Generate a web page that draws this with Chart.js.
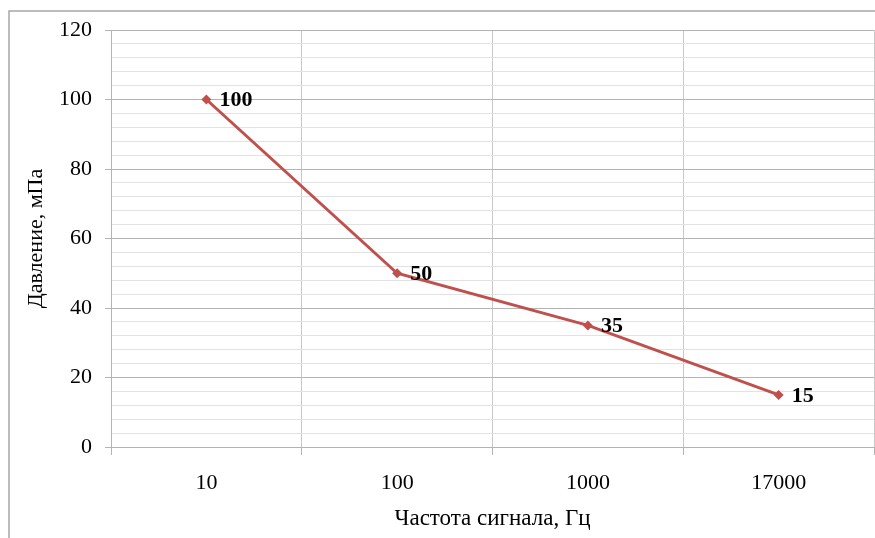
<!DOCTYPE html>
<html>
<head>
<meta charset="utf-8">
<script src="https://cdn.jsdelivr.net/npm/chart.js@4/dist/chart.umd.min.js"></script>
<style>
  html, body { margin: 0; padding: 0; background: #ffffff; }
  #wrap { width: 875px; height: 538px; position: relative; }
</style>
</head>
<body>
<div id="wrap"><canvas id="chart" width="875" height="538"></canvas></div>
<script>
// Signal frequency categories (Hz) and measured pressure (mPa)
const frequencies = ['10', '100', '1000', '17000'];
const pressure = [100, 50, 35, 15];

// Value axis range and gridline spacing
const yMin = 0;
const yMax = 120;
const yMinorStep = 4;
const yMajorStep = 20;

const SERIF = '"Liberation Serif", "Times New Roman", serif';
const LINE_RED = '#C0504D';

// Outer frame around the whole chart
const framePlugin = {
  id: 'frame',
  beforeDraw(chart) {
    const ctx = chart.ctx;
    ctx.save();
    ctx.fillStyle = '#ffffff';
    ctx.fillRect(0, 0, chart.width, chart.height);
    ctx.strokeStyle = '#a6a6a6';
    ctx.lineWidth = 1.5;
    ctx.strokeRect(9, 11, chart.width + 20, chart.height + 20);
    ctx.restore();
  }
};

// Bold value labels to the right of each point
const valueLabels = {
  id: 'valueLabels',
  afterDatasetsDraw(chart) {
    const ctx = chart.ctx;
    const meta = chart.getDatasetMeta(0);
    const data = chart.data.datasets[0].data;
    ctx.save();
    ctx.font = 'bold 22px ' + SERIF;
    ctx.fillStyle = '#000000';
    ctx.textAlign = 'left';
    ctx.textBaseline = 'middle';
    meta.data.forEach((pt, i) => {
      ctx.fillText(String(data[i]), pt.x + 13, pt.y + 1);
    });
    ctx.restore();
  }
};

new Chart(document.getElementById('chart'), {
  type: 'line',
  data: {
    labels: frequencies,
    datasets: [{
      data: pressure,
      borderColor: LINE_RED,
      backgroundColor: LINE_RED,
      borderWidth: 3,
      pointStyle: 'rectRot',
      pointRadius: 5,
      pointBorderWidth: 0,
      pointBackgroundColor: LINE_RED,
      tension: 0,
      fill: false
    }]
  },
  options: {
    responsive: false,
    animation: false,
    events: [],
    layout: { autoPadding: false, padding: { top: 30, right: 1, left: 0, bottom: 0 } },
    plugins: {
      legend: { display: false },
      tooltip: { enabled: false }
    },
    scales: {
      x: {
        type: 'category',
        offset: true,
        afterFit(scale) {
          scale.height = 91;
          scale.paddingLeft = 0;
          scale.paddingRight = 0;
        },
        grid: {
          offset: true,
          color: '#c8c8c8',
          lineWidth: 1,
          drawTicks: true,
          tickLength: 8,
          tickColor: '#b4b4b4'
        },
        border: { display: true, color: '#b4b4b4', width: 1 },
        ticks: {
          color: '#000000',
          font: { family: SERIF, size: 22 },
          padding: 15,
          maxRotation: 0,
          autoSkip: false
        },
        title: {
          display: true,
          text: 'Частота сигнала, Гц',
          color: '#000000',
          font: { family: SERIF, size: 23 },
          padding: { top: 0, bottom: 5 }
        }
      },
      y: {
        min: yMin,
        max: yMax,
        afterFit(scale) { scale.width = 111; },
        grid: {
          color: (c) => (c.tick && c.tick.value % yMajorStep === 0) ? '#b4b4b4' : '#e2e2e2',
          lineWidth: 1,
          drawTicks: true,
          tickLength: 6,
          tickColor: (c) => (c.tick && c.tick.value % yMajorStep === 0) ? '#b4b4b4' : 'rgba(0,0,0,0)'
        },
        border: { display: true, color: '#b4b4b4', width: 1 },
        ticks: {
          stepSize: yMinorStep,
          maxTicksLimit: 100,
          autoSkip: false,
          color: '#000000',
          font: { family: SERIF, size: 22 },
          padding: 13,
          callback: (v) => (v % yMajorStep === 0) ? String(v) : ''
        },
        title: {
          display: true,
          text: 'Давление, мПа',
          color: '#000000',
          font: { family: SERIF, size: 22 },
          padding: { top: 23, bottom: 0 }
        }
      }
    }
  },
  plugins: [framePlugin, valueLabels]
});
</script>
</body>
</html>
